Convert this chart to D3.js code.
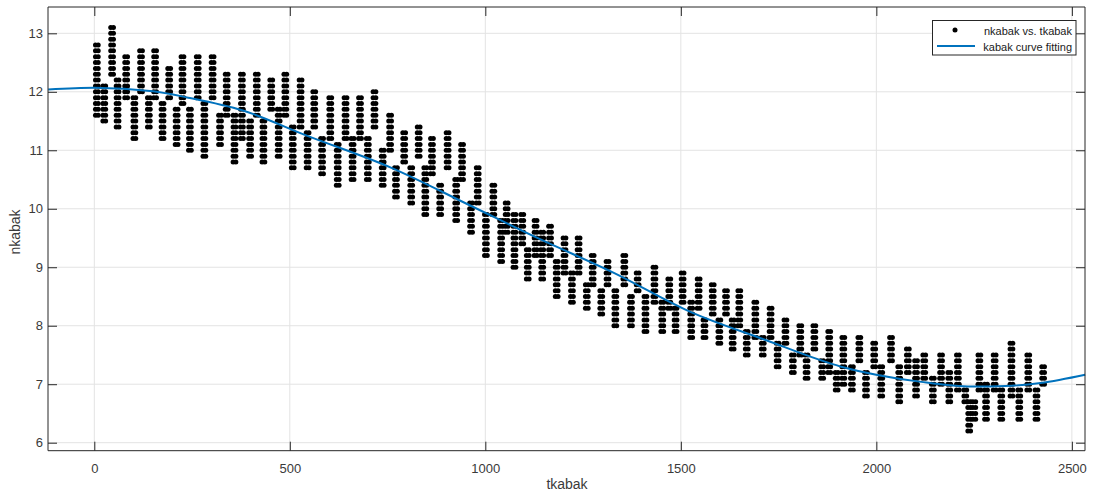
<!DOCTYPE html>
<html><head><meta charset="utf-8">
<script src="https://cdn.jsdelivr.net/npm/d3@7"></script>
<style>
body{margin:0;background:#fff}
svg{display:block}
text{font-family:"Liberation Sans",Arial,Helvetica,sans-serif}
</style>
</head><body>
<svg id="chart" width="1094" height="497"></svg>
<script>
// Scatter columns: each column is a stack of readings at 0.1 steps,
// each column spanning from colX (left edge) to colX + colSpan (right edge)
const colX=[3,22,42,56,78,99,116,136,152,171,188,207,222,241,261,278,299,318,335,355,374,395,412,429,449,468,485,504,524,542,559,579,600,619,639,657,676,696,713,734,753,768,789,807,826,843,860,881,900,922,937,960,977,998,1017,1037,1051,1071,1091,1105,1125,1142,1162,1179,1199,1218,1235,1256,1271,1293,1309,1329,1352,1369,1386,1406,1429,1449,1467,1483,1501,1523,1542,1557,1578,1595,1612,1629,1646,1665,1687,1706,1726,1744,1764,1783,1802,1818,1838,1858,1876,1895,1912,1934,1953,1970,1991,2009,2034,2055,2077,2098,2119,2141,2162,2183,2205,2224,2234,2247,2260,2277,2299,2316,2342,2362,2385,2406,2423];
const colHi=[12.8,12.1,13.1,12.2,12.6,11.9,12.7,11.9,12.7,11.8,12.4,11.7,12.6,11.7,12.6,11.8,12.6,11.6,12.3,11.6,12.3,11.5,12.3,11.5,12.2,11.7,12.3,11.4,12.2,11.3,12.0,11.2,11.9,11.1,11.9,11.2,11.9,11.2,12.0,11.0,11.6,10.7,11.3,10.7,11.4,10.7,11.2,10.4,11.3,10.5,11.1,10.1,10.7,9.9,10.4,9.8,10.1,9.9,9.9,9.3,9.8,9.6,9.7,9.1,9.5,8.9,9.5,8.7,9.2,8.6,9.1,8.6,9.2,8.5,8.9,8.5,9.0,8.4,8.8,8.3,8.9,8.4,8.8,8.1,8.7,8.1,8.6,8.1,8.6,7.9,8.4,7.8,8.3,7.7,8.1,7.5,8.0,7.5,8.0,7.4,7.9,7.2,7.8,7.3,7.8,7.2,7.7,7.3,7.8,7.3,7.6,7.4,7.5,7.1,7.5,7.2,7.5,6.9,6.7,6.7,7.5,7.0,7.5,6.9,7.7,6.9,7.5,6.9,7.3];
const colLo=[11.6,11.5,12.3,11.4,11.9,11.2,12.0,11.4,11.9,11.2,11.9,11.1,11.8,11.0,11.9,10.9,11.9,11.1,11.6,10.8,11.2,10.9,11.6,10.8,11.7,10.9,11.6,10.7,11.4,10.7,11.4,10.6,11.2,10.4,11.2,10.5,11.2,10.5,11.4,10.4,11.0,10.2,10.8,10.1,10.9,9.9,10.6,9.9,10.7,9.8,10.5,9.6,10.1,9.2,9.9,9.1,9.6,9.0,9.4,8.8,9.2,8.8,9.2,8.5,8.9,8.4,8.9,8.3,8.7,8.2,8.7,8.0,8.7,8.0,8.6,7.9,8.4,7.9,8.3,7.9,8.4,7.8,8.3,7.8,8.2,7.7,8.2,7.6,8.0,7.5,7.8,7.5,7.8,7.3,7.7,7.2,7.5,7.1,7.6,7.1,7.2,6.9,7.0,6.9,7.4,6.8,7.3,6.8,7.4,6.7,7.2,6.8,7.1,6.7,7.0,6.7,6.9,6.7,6.2,6.4,6.9,6.4,6.9,6.4,6.8,6.4,6.9,6.4,7.0];
const colSpan=7;

// Fitted curve, read at sample points
const fitX=[-118,0,150,240,380,540,760,960,1140,1330,1520,1715,1910,2115,2245,2330,2420,2534];
const fitY=[12.04,12.07,12.01,11.90,11.68,11.26,10.70,10.06,9.48,8.90,8.25,7.76,7.30,7.04,6.96,6.97,7.02,7.16];

const xTicks=[0,500,1000,1500,2000,2500];
const yTicks=[6,7,8,9,10,11,12,13];
const legendLabels=["nkabak vs. tkabak","kabak curve fitting"];
const xLabel="tkabak", yLabel="nkabak";

const svg=d3.select("#chart");
const L=48,R=1085,T=7,B=450.7;
const x=d3.scaleLinear().domain([-118.4,2533.6]).range([L,R]);
const y=d3.scaleLinear().domain([5.863,13.45]).range([B,T]);
const axisCol="#262626", gridCol="#e3e3e3", fontCol="#3a3a3a";
const dotR=2.5;

// grid
const g=svg.append("g");
g.selectAll("line.gx").data(xTicks).join("line").attr("class","gx")
 .attr("x1",d=>x(d)).attr("x2",d=>x(d)).attr("y1",T).attr("y2",B)
 .attr("stroke",gridCol).attr("stroke-width",1);
g.selectAll("line.gy").data(yTicks).join("line").attr("class","gy")
 .attr("x1",L).attr("x2",R).attr("y1",d=>y(d)).attr("y2",d=>y(d))
 .attr("stroke",gridCol).attr("stroke-width",1);

// points
const pts=[];
colX.forEach((cx,i)=>{
  const lo=Math.round(colLo[i]*10), hi=Math.round(colHi[i]*10);
  for(let v=lo;v<=hi;v++){
    pts.push({x:cx,y:v/10});
    pts.push({x:cx+colSpan,y:v/10});
  }
});
svg.append("g").selectAll("circle").data(pts).join("circle")
 .attr("cx",d=>x(d.x)).attr("cy",d=>y(d.y)).attr("r",dotR).attr("fill","#000");

// curve
const fit=fitX.map((d,i)=>[d,fitY[i]]);
svg.append("path").datum(fit)
 .attr("d",d3.line().x(d=>x(d[0])).y(d=>y(d[1])).curve(d3.curveMonotoneX))
 .attr("fill","none").attr("stroke","#0072BD").attr("stroke-width",2);

// axes (box with inward ticks on all sides)
const tl=9;
const fmt=d3.format("d");
const ax=svg.append("g").attr("transform",`translate(0,${B})`)
 .call(d3.axisBottom(x).tickValues(xTicks).tickSize(-tl).tickPadding(tl+4).tickFormat(fmt));
const ay=svg.append("g").attr("transform",`translate(${L},0)`)
 .call(d3.axisLeft(y).tickValues(yTicks).tickSize(-tl).tickPadding(5).tickFormat(fmt));
const axT=svg.append("g").attr("transform",`translate(0,${T})`)
 .call(d3.axisTop(x).tickValues(xTicks).tickSize(-tl).tickFormat(""));
const ayR=svg.append("g").attr("transform",`translate(${R},0)`)
 .call(d3.axisRight(y).tickValues(yTicks).tickSize(-tl).tickFormat(""));
[ax,ay,axT,ayR].forEach(a=>{
  a.select(".domain").attr("stroke",axisCol).attr("stroke-width",1);
  a.selectAll(".tick line").attr("stroke",axisCol).attr("stroke-width",1);
  a.selectAll(".tick text").attr("fill",fontCol).attr("font-size",13)
   .attr("font-family","'Liberation Sans',Arial,sans-serif");
});
[ax,axT].forEach(a=>a.select(".domain").attr("d",`M${L},0H${R}`));
[ay,ayR].forEach(a=>a.select(".domain").attr("d",`M0,${T}V${B}`));

// labels
svg.append("text").attr("x",567).attr("y",489).attr("text-anchor","middle")
 .attr("font-size",14).attr("fill",fontCol).text(xLabel);
svg.append("text").attr("transform","translate(20,232) rotate(-90)").attr("text-anchor","middle")
 .attr("font-size",14).attr("fill",fontCol).text(yLabel);

// legend
const lg=svg.append("g");
lg.append("rect").attr("x",932.5).attr("y",20.5).attr("width",143.5).attr("height",34.5)
 .attr("fill","#fff").attr("stroke",axisCol).attr("stroke-width",1);
lg.append("circle").attr("cx",955).attr("cy",30).attr("r",dotR).attr("fill","#000");
lg.append("line").attr("x1",937).attr("x2",975).attr("y1",46).attr("y2",46)
 .attr("stroke","#0072BD").attr("stroke-width",2);
lg.selectAll("text").data(legendLabels).join("text")
 .attr("x",1072).attr("y",(d,i)=>34.5+i*16).attr("text-anchor","end")
 .attr("font-size",11).attr("fill","#1a1a1a").text(d=>d);
</script>
</body></html>
